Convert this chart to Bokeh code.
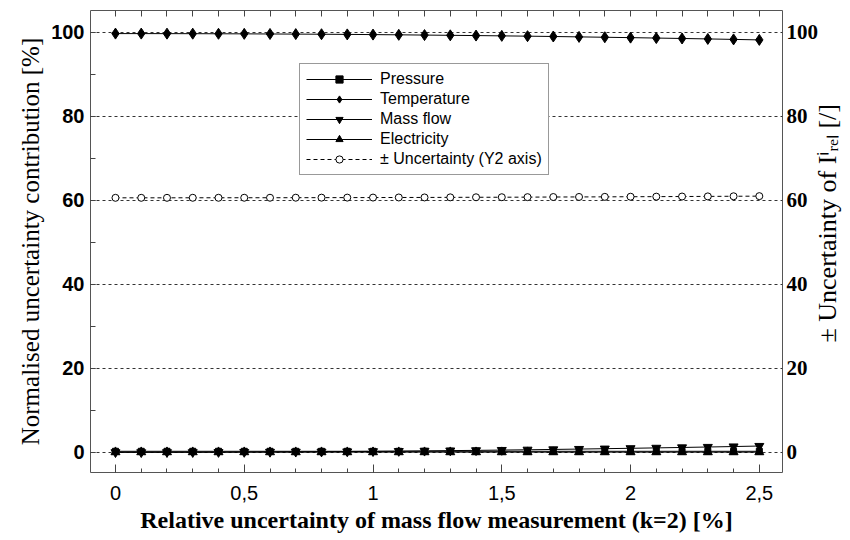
import math
from bokeh.plotting import figure
from bokeh.models import Range1d, LinearAxis, FixedTicker
from bokeh.embed import file_html
from bokeh.resources import INLINE

# ---- data -------------------------------------------------------------
x_vals = [0.0, 0.1, 0.2, 0.3, 0.4, 0.5, 0.6, 0.7, 0.8, 0.9, 1.0, 1.1, 1.2,
          1.3, 1.4, 1.5, 1.6, 1.7, 1.8, 1.9, 2.0, 2.1, 2.2, 2.3, 2.4, 2.5]
pressure = [0.25, 0.25, 0.25, 0.25, 0.25, 0.25, 0.25, 0.25, 0.25, 0.25, 0.25,
            0.25, 0.25, 0.25, 0.25, 0.25, 0.25, 0.25, 0.25, 0.25, 0.25, 0.25,
            0.25, 0.25, 0.25, 0.25]
temperature = [99.7, 99.7, 99.69, 99.68, 99.66, 99.64, 99.61, 99.58, 99.55,
               99.51, 99.46, 99.41, 99.35, 99.29, 99.23, 99.16, 99.09, 99.01,
               98.92, 98.83, 98.74, 98.64, 98.54, 98.43, 98.32, 98.2]
mass_flow = [0.0, 0.0, 0.01, 0.02, 0.04, 0.06, 0.09, 0.12, 0.15, 0.19, 0.24,
             0.29, 0.35, 0.41, 0.47, 0.54, 0.61, 0.69, 0.78, 0.87, 0.96, 1.06,
             1.16, 1.27, 1.38, 1.5]
electricity = [0.05, 0.05, 0.05, 0.05, 0.05, 0.05, 0.05, 0.05, 0.05, 0.05,
               0.05, 0.05, 0.05, 0.05, 0.05, 0.05, 0.05, 0.05, 0.05, 0.05,
               0.05, 0.05, 0.05, 0.05, 0.05, 0.05]
uncertainty_y2 = [60.6, 60.6, 60.6, 60.61, 60.61, 60.62, 60.62, 60.63, 60.64,
                  60.65, 60.66, 60.68, 60.69, 60.71, 60.73, 60.74, 60.76,
                  60.79, 60.81, 60.83, 60.86, 60.88, 60.91, 60.94, 60.97, 61.0]

x_major_ticks = [0, 0.5, 1, 1.5, 2, 2.5]
x_tick_labels = ["0", "0,5", "1", "1,5", "2", "2,5"]
x_minor_ticks = x_vals
y_major_ticks = [0, 20, 40, 60, 80, 100]
y_minor_ticks = [0, 10, 20, 30, 40, 50, 60, 70, 80, 90, 100]

SANS = "Liberation Sans"
SERIF = "Liberation Serif"

p = figure(frame_width=692, frame_height=462,
           min_border_left=90, min_border_right=68,
           min_border_top=10, min_border_bottom=68,
           x_range=Range1d(-0.097, 2.59), y_range=Range1d(-4.8, 105.2),
           output_backend="svg", toolbar_location=None,
           background_fill_color="white", border_fill_color="white")
p.extra_y_ranges = {"y2": Range1d(-4.8, 105.2)}

p.outline_line_color = "#555555"
p.outline_line_width = 1
p.xgrid.visible = False
p.ygrid.ticker = FixedTicker(ticks=y_major_ticks)
p.ygrid.grid_line_color = "#333333"
p.ygrid.grid_line_dash = "3 3"
p.ygrid.grid_line_width = 1

# bottom axis
xa = p.xaxis[0]
xa.ticker = FixedTicker(ticks=x_major_ticks, minor_ticks=x_minor_ticks)
xa.major_label_overrides = {t: l for t, l in zip(x_major_ticks, x_tick_labels)}
xa.axis_line_color = None
xa.major_tick_in = 8
xa.major_tick_out = 0
xa.minor_tick_in = 4
xa.minor_tick_out = 0
xa.major_tick_line_color = "#444444"
xa.minor_tick_line_color = "#444444"
xa.major_label_standoff = 13
xa.major_label_text_font = SANS
xa.major_label_text_font_size = "20px"
xa.major_label_text_color = "black"
xa.axis_label = "Relative uncertainty of mass flow measurement (k=2) [%]"
xa.axis_label_text_font = SERIF
xa.axis_label_text_font_style = "bold"
xa.axis_label_text_font_size = "24px"
xa.axis_label_text_color = "black"
xa.axis_label_standoff = 4

# left axis
ya = p.yaxis[0]
ya.ticker = FixedTicker(ticks=y_major_ticks, minor_ticks=y_minor_ticks)
ya.axis_line_color = None
ya.major_tick_in = 5
ya.major_tick_out = 0
ya.minor_tick_in = 5
ya.minor_tick_out = 0
ya.major_tick_line_color = "#444444"
ya.minor_tick_line_color = "#444444"
ya.major_label_standoff = 6
ya.major_label_text_font = SANS
ya.major_label_text_font_style = "bold"
ya.major_label_text_font_size = "20px"
ya.major_label_text_color = "black"
ya.axis_label = "Normalised uncertainty contribution [%]"
ya.axis_label_text_font = SERIF
ya.axis_label_text_font_style = "normal"
ya.axis_label_text_font_size = "25px"
ya.axis_label_text_color = "black"
ya.axis_label_standoff = 4

# top axis (ticks only: major tick placed outside range so no labels exist)
top = LinearAxis(ticker=FixedTicker(ticks=[-10], minor_ticks=x_minor_ticks))
top.axis_line_color = None
top.major_tick_in = 0
top.major_tick_out = 0
top.minor_tick_in = 6
top.minor_tick_out = 0
top.minor_tick_line_color = "#444444"
top.major_label_standoff = 0
p.add_layout(top, "above")

# right axis (Y2)
ra = LinearAxis(y_range_name="y2", ticker=FixedTicker(ticks=y_major_ticks))
ra.axis_line_color = None
ra.major_tick_in = 0
ra.major_tick_out = 0
ra.major_label_standoff = 4
ra.major_label_text_font = SERIF
ra.major_label_text_font_style = "bold"
ra.major_label_text_font_size = "21px"
ra.major_label_text_color = "black"
ra.axis_label = "\u2003\u2003\u2003\u2003\u2003\u00b1 Uncertainty of I\u2071\u1d63\u2091\u2097 [/]"
ra.axis_label_text_font = SERIF
ra.axis_label_text_font_style = "normal"
ra.axis_label_text_font_size = "26px"
ra.axis_label_text_color = "black"
ra.axis_label_standoff = 6
ra.axis_label_orientation = math.pi / 2
ra.axis_label_align = "start"
p.add_layout(ra, "right")

# ---- series -------------------------------------------------------------
def series(y, marker, size, label, fill="black", dash="solid", yr="default"):
    p.line(x_vals, y, line_color="black", line_width=1, line_dash=dash,
           legend_label=label, y_range_name=yr)
    p.scatter(x_vals, y, marker=marker, size=size, line_color="black",
              fill_color=fill, legend_label=label, y_range_name=yr)

series(pressure, "square", 6, "Pressure")
series(temperature, "diamond", 11, "Temperature")
series(mass_flow, "inverted_triangle", 9, "Mass flow")
series(electricity, "triangle", 9, "Electricity")
series(uncertainty_y2, "circle", 7, "\u00b1 Uncertainty (Y2 axis)", fill="white",
       dash="4 3", yr="y2")

lg = p.legend[0]
lg.location = (209, 297)
lg.label_text_font = SANS
lg.label_text_font_size = "16px"
lg.label_text_color = "black"
lg.glyph_width = 66
lg.glyph_height = 18
lg.label_height = 18
lg.spacing = 2
lg.padding = 6
lg.margin = 0
lg.label_standoff = 8
lg.border_line_color = "#333333"
lg.border_line_width = 1
lg.background_fill_color = "white"
lg.background_fill_alpha = 1.0

open("out.html", "w").write(file_html(p, INLINE))
